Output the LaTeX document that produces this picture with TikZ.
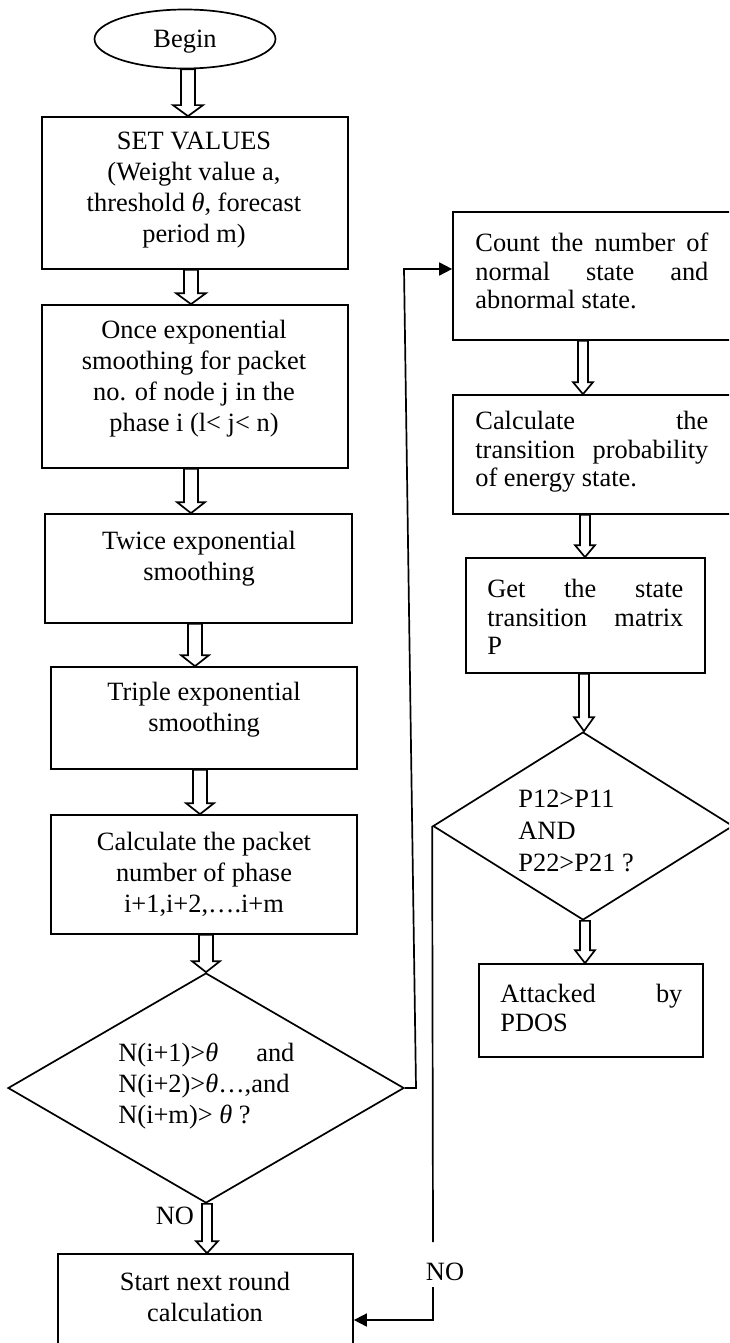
\documentclass[tikz,border=0pt]{standalone}
\usepackage{fontspec}
\setmainfont{Liberation Serif}
\usetikzlibrary{shapes.geometric,arrows.meta,calc}
\setlength\parindent{0pt}
\newcommand\thet{{\itshape θ}}
\newcommand\flowarrow[6]{%
  \draw[blk] let \p1=(#1.south), \p2=(#2.north) in
    ({(#3-#4)*0.5pt},\y1) -- ({(#3-#4)*0.5pt},{\y2+#6*0.5pt}) --
    ({(#3-#5)*0.5pt},{\y2+#6*0.5pt}) -- ({#3*0.5pt},\y2) --
    ({(#3+#5)*0.5pt},{\y2+#6*0.5pt}) -- ({(#3+#4)*0.5pt},{\y2+#6*0.5pt}) --
    ({(#3+#4)*0.5pt},\y1) -- cycle;}
\begin{document}
\begin{tikzpicture}[x=0.5pt,y=-0.5pt,
  box/.style={draw, line width=0.85pt, rectangle, inner sep=0pt},
  dia/.style={draw, line width=0.85pt, diamond, inner sep=0pt},
  txt/.style={inner sep=0pt, font=\fontsize{13.2}{15.5}\selectfont, align=center},
  jtxt/.style={inner sep=0pt, font=\fontsize{13.2}{14.2}\selectfont, align=justify, anchor=west},
  blk/.style={draw, line width=0.85pt, fill=white, line join=miter},
  conn/.style={draw, line width=0.85pt},
  tip/.style={-{Triangle[length=6.5pt,width=6.5pt]}}]
\useasboundingbox (0,0) rectangle (729,1343);
\clip (0,0) rectangle (729,1343);
\fill[white] (0,0) rectangle (729,1343);

% left column
\node[draw, ellipse, line width=0.85pt, inner sep=0pt, minimum width=90.5pt, minimum height=29.5pt] (begin) at (185,39) {};
\node[txt] (begin-t) at (185,42) {Begin};

\node[box, minimum width=153pt, minimum height=76pt] (set) at (195,193) {};
\node[txt] (set-t) at (194,190) {SET VALUES\\(Weight value a,\\threshold \thet, forecast\\period m)};

\node[box, minimum width=153pt, minimum height=81.5pt] (once) at (195,386.5) {};
\node[txt] (once-t) at (194,379) {Once exponential\\smoothing for packet\\no. of node j in the\\phase i (l< j< n)};

\node[box, minimum width=153.5pt, minimum height=54.5pt] (twice) at (198.5,568.5) {};
\node[txt] (twice-t) at (199,559) {Twice exponential\\smoothing};

\node[box, minimum width=153pt, minimum height=51pt] (triple) at (204,718) {};
\node[txt] (triple-t) at (204,710) {Triple exponential\\smoothing};

\node[box, minimum width=153pt, minimum height=59.5pt] (calc) at (204,874.5) {};
\node[txt] (calc-t) at (204,874) {Calculate the packet\\number of phase\\i+1,i+2,\ldots.i+m};

\node[dia, minimum width=198pt, minimum height=115pt] (d1) at (206,1088) {};
\node[jtxt, text width=88pt, font=\fontsize{13.2}{15.5}\selectfont] (d1-t) at (118,1086) {N(i+1)>\thet\ and\linebreak N(i+2)>\thet…,and\linebreak N(i+m)> \thet\ ?};

\node[box, minimum width=147.5pt, minimum height=58pt] (start) at (205.5,1312) {};
\node[txt] (start-t) at (205,1297) {Start next round\\calculation};

\node[txt] (no1) at (175,1216) {NO};
\node[txt] (no2) at (445,1272) {NO};

% right column
\node[box, minimum width=146pt, minimum height=64pt] (cnt) at (599,276) {};
\node[jtxt, text width=116.5pt] (cnt-t) at (475,271) {Count the number of\linebreak normal state and\linebreak abnormal state.};

\node[box, minimum width=146pt, minimum height=59.5pt] (calct) at (599,454.5) {};
\node[jtxt, text width=116.5pt] (calct-t) at (475,452) {Calculate the\linebreak transition probability\linebreak of energy state.};

\node[box, minimum width=119.5pt, minimum height=57.5pt] (get) at (585.5,615.5) {};
\node[jtxt, text width=98pt] (get-t) at (487,617) {Get the state\linebreak transition matrix\linebreak P};

\node[dia, minimum width=150pt, minimum height=94pt] (d2) at (583,826) {};
\node[txt, align=left, anchor=west, font=\fontsize{13.2}{16}\selectfont] (d2-t) at (518,831) {P12>P11\\AND\\P22>P21 ?};

\node[box, minimum width=112pt, minimum height=46.5pt] (att) at (591,1010.5) {};
\node[jtxt, text width=91pt] (att-t) at (500,1008) {Attacked by\linebreak PDOS};

% block arrows
\flowarrow{begin}{set}{188}{7}{15}{11}
\flowarrow{set}{once}{191}{7}{15}{11}
\flowarrow{once}{twice}{191}{7}{14}{11}
\flowarrow{twice}{triple}{195}{7}{14}{11}
\flowarrow{triple}{calc}{200}{7}{14}{11}
\flowarrow{calc}{d1}{206}{7}{14}{11}
\flowarrow{d1}{start}{207}{5}{11}{12}
\flowarrow{cnt}{calct}{583}{5}{10}{12}
\flowarrow{calct}{get}{585}{5}{10}{12}
\flowarrow{get}{d2}{584}{5}{10}{14}
\flowarrow{d2}{att}{585}{5}{10}{13}

% connectors
\coordinate (j1) at (416,1088);
\coordinate (j2) at (404,269);
\draw[conn, tip] (d1.east) -- (j1) -- (j2) -- ([yshift=3.5pt]cnt.west);
\coordinate (g1) at (433,1242);
\coordinate (g2) at (433,1287);
\draw[conn] (d2.west) -- (g1);
\draw[conn, tip] (g2) |- ([yshift=-4pt]start.east);
\end{tikzpicture}
\end{document}
